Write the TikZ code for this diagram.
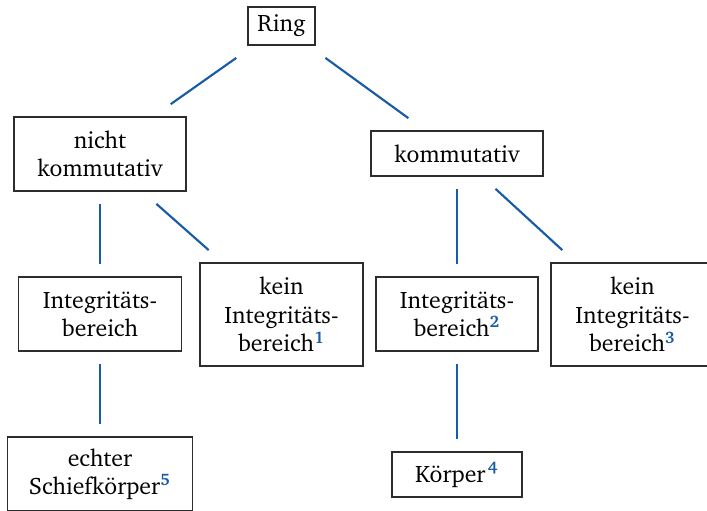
\documentclass[tikz,border=0pt]{standalone}
\usepackage[T1]{fontenc}
\usepackage{charter}
\usepackage{xcolor}
\definecolor{fnblue}{RGB}{22,92,166}
\definecolor{boxgray}{RGB}{45,45,45}
\newcommand{\fnmark}[1]{\textsuperscript{\textcolor{fnblue}{\bfseries #1}}}

\begin{document}
\begin{tikzpicture}[x=0.42pt,y=-0.42pt,
    box/.style={draw=boxgray,line width=0.7pt,align=center,inner sep=0pt,outer sep=5.4pt},
    branch/.style={draw=fnblue,line width=0.9pt}]
    \clip (0,0) rectangle (707,510);
    \node[box,minimum width=28.1pt,minimum height=16pt] (ring) at (281.5,26) {Ring};
    \node[box,minimum width=72.2pt,minimum height=31.1pt] (nkomm) at (100,154) {nicht\\kommutativ};
    \node[box,minimum width=72.2pt,minimum height=18.9pt] (komm) at (457,153.5) {kommutativ};
    \node[box,minimum width=68.5pt,minimum height=31.1pt] (ib1) at (100,314) {Integrit\"ats-\\bereich};
    \node[box,minimum width=68.5pt,minimum height=43.3pt] (kib1) at (281.5,314.5) {kein\\Integrit\"ats-\\bereich\fnmark{1}};
    \node[box,minimum width=68pt,minimum height=31.1pt] (ib2) at (457,314) {Integrit\"ats-\\bereich\fnmark{2}};
    \node[box,minimum width=68.5pt,minimum height=43.3pt] (kib2) at (632.5,314.5) {kein\\Integrit\"ats-\\bereich\fnmark{3}};
    \node[box,minimum width=77.7pt,minimum height=31.1pt] (schief) at (100,474) {echter\\Schiefk\"orper\fnmark{5}};
    \node[box,minimum width=54.6pt,minimum height=18.9pt] (koerper) at (457,474.5) {K\"orper\kern1pt\fnmark{4}};
    \draw[branch] (ring) -- (nkomm);
    \draw[branch] (ring) -- (komm);
    \draw[branch] (nkomm) -- (ib1);
    \draw[branch] (nkomm) -- (kib1);
    \draw[branch] (komm) -- (ib2);
    \draw[branch] (komm) -- (kib2);
    \draw[branch] (ib1) -- (schief);
    \draw[branch] (ib2) -- (koerper);
\end{tikzpicture}
\end{document}
